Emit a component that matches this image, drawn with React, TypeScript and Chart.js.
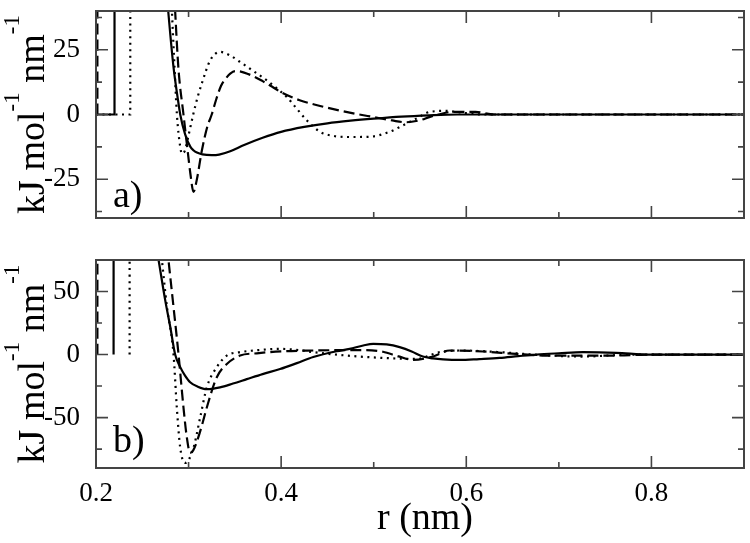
import React, { useEffect, useRef } from 'react';
import { Chart, registerables } from 'chart.js';

Chart.register(...registerables);

const FONT = '"Liberation Serif", "Times New Roman", serif';

// ---- shared axis ticks ----
const xMajorTicks = [0.2, 0.4, 0.6, 0.8];
const xMinorTicks = [0.3, 0.5, 0.7];
const xMin = 0.2;
const xMax = 0.9;

// ---- panel a) ----
const aYMin = -40;
const aYMax = 40;
const aYMajor = [-25, 0, 25];
const aYMinor = [-37.5, -12.5, 12.5, 37.5];

const aSolidR = [0.2, 0.22, 0.2201, 0.24, 0.25, 0.26, 0.27, 0.278, 0.2837, 0.288, 0.291, 0.2963, 0.302, 0.3055, 0.309, 0.315, 0.325, 0.333, 0.345, 0.36, 0.38, 0.4, 0.425, 0.45, 0.475, 0.5, 0.53, 0.56, 0.59, 0.9];
const aSolidF = [0, 0, 1000, 400, 220, 130, 75, 40, 18.4, 7, 0, -7.7, -12.5, -13.9, -14.7, -15.4, -15.7, -15.5, -14.2, -11.8, -9, -6.7, -4.8, -3.4, -2.4, -1.6, -0.8, -0.3, 0, 0];

const aDashR = [0.2015, 0.2016, 0.25, 0.26, 0.27, 0.28, 0.2855, 0.289, 0.2945, 0.299, 0.302, 0.3053, 0.309, 0.3143, 0.32, 0.325, 0.33, 0.335, 0.34, 0.345, 0.3503, 0.355, 0.36, 0.37, 0.38, 0.39, 0.4, 0.42, 0.44, 0.46, 0.48, 0.5, 0.52, 0.535, 0.55, 0.56, 0.57, 0.585, 0.61, 0.63, 0.9];
const aDashF = [0, 1000, 600, 350, 180, 80, 40, 18, 0, -14, -23, -29.9, -25, -14, -5, 0, 6, 11, 13.8, 15.8, 16.8, 16.7, 16.2, 14.8, 12.9, 10.8, 8.6, 5.5, 3.5, 1.8, 0.3, -1, -2.3, -3, -2.2, -1, 0, 1, 1, 0, 0];

const aDotR = [0.2, 0.237, 0.2372, 0.255, 0.265, 0.275, 0.279, 0.282, 0.2848, 0.2874, 0.291, 0.2928, 0.296, 0.3, 0.305, 0.31, 0.3143, 0.3233, 0.334, 0.345, 0.3557, 0.37, 0.3845, 0.395, 0.406, 0.417, 0.4276, 0.442, 0.457, 0.4743, 0.496, 0.517, 0.5315, 0.546, 0.5606, 0.5787, 0.593, 0.618, 0.9];
const aDotF = [0, 0, 1000, 400, 220, 100, 65, 40, 18.4, 0, -12.5, -15.1, -14, -8, 0, 7, 12, 20.9, 24.2, 22.8, 20.3, 16.8, 13.2, 10.2, 6.8, 2.2, -2.2, -6.7, -8.3, -8.7, -8.6, -6.7, -4.2, -1.6, 1, 1.4, 0.8, 0, 0];

// ---- panel b) ----
const bYMin = -90;
const bYMax = 75;
const bYMajor = [-50, 0, 50];
const bYMinor = [-75, -25, 25];

const bSolidR = [0.219, 0.2192, 0.23, 0.24, 0.25, 0.26, 0.2676, 0.2748, 0.2802, 0.2855, 0.291, 0.296, 0.3017, 0.31, 0.3197, 0.334, 0.348, 0.3629, 0.38, 0.3988, 0.417, 0.4347, 0.46, 0.474, 0.4887, 0.4995, 0.514, 0.528, 0.541, 0.553, 0.564, 0.575, 0.593, 0.614, 0.636, 0.656, 0.676, 0.7, 0.726, 0.762, 0.798, 0.9];
const bSolidF = [0, 1000, 600, 300, 170, 108, 75, 43, 22, 0, -10, -16.5, -22, -25.5, -27.5, -26, -23, -19.5, -15.5, -11.5, -6.8, -2, 2.6, 4.5, 7.2, 8.5, 8, 5.9, 2.5, -1.6, -3, -3.8, -4.3, -3.6, -2.7, -1.3, 0, 1, 1.9, 1.4, 0, 0];

const bDashR = [0.2015, 0.2016, 0.25, 0.265, 0.272, 0.2783, 0.2837, 0.2891, 0.2945, 0.298, 0.3017, 0.305, 0.309, 0.3145, 0.3197, 0.3305, 0.3413, 0.3557, 0.3737, 0.4, 0.4347, 0.47, 0.49, 0.51, 0.527, 0.5427, 0.5642, 0.582, 0.618, 0.654, 0.69, 0.76, 0.8, 0.9];
const bDashF = [0, 1000, 350, 180, 120, 75, 38, 0.5, -42, -65, -78, -76, -69, -56, -42, -18, -7.5, -0.8, 1, 2.5, 3.2, 3.5, 3.5, 2.2, -1.5, -4.3, -1.6, 3.2, 2.4, 0.5, -0.8, -0.8, 0, 0];

const bDotR = [0.2363, 0.2365, 0.245, 0.258, 0.265, 0.2712, 0.2766, 0.2837, 0.2873, 0.291, 0.2963, 0.3053, 0.3125, 0.3197, 0.3305, 0.3413, 0.3557, 0.375, 0.3988, 0.42, 0.4347, 0.4708, 0.51, 0.546, 0.5714, 0.593, 0.636, 0.672, 0.726, 0.78, 0.9];
const bDotF = [0, 1000, 350, 180, 120, 75, 38, 0.5, -42, -74, -86, -74, -50, -26, -10, -0.8, 1.9, 3.5, 4.5, 3.5, 1.9, -0.8, -2.7, -3.5, 1.9, 3.2, 1.9, 0, -1.6, 0, 0];

type Style = 'solid' | 'dash' | 'dot';

function makeDataset(r: number[], f: number[], style: Style) {
  return {
    data: r.map((x, i) => ({ x, y: f[i] })),
    borderColor: '#000',
    borderWidth: 2.2,
    borderDash: style === 'dash' ? [11, 5] : style === 'dot' ? [2, 4.5] : [],
    pointRadius: 0,
    fill: false,
    cubicInterpolationMode: 'monotone' as const,
  };
}

interface PanelOpts {
  datasets: any[];
  yMin: number;
  yMax: number;
  yMajor: number[];
  yMinor: number[];
  padTop: number;
  xAxisHeight: number;
  showXLabels: boolean;
  panelLabel: string;
  panelLabelDy: number;
  xTitle?: { text: string; x: number; y: number };
}

function framePlugin(p: PanelOpts) {
  return {
    id: 'frameTicks',
    afterDraw(chart: any) {
      const { ctx, chartArea: a } = chart;
      const xs = chart.scales.x;
      const ys = chart.scales.y;
      ctx.save();
      ctx.strokeStyle = '#444';
      ctx.lineWidth = 2;
      ctx.strokeRect(a.left, a.top, a.right - a.left, a.bottom - a.top);
      ctx.lineWidth = 1.6;
      const xTick = (v: number, len: number) => {
        const px = xs.getPixelForValue(v);
        ctx.beginPath();
        ctx.moveTo(px, a.bottom);
        ctx.lineTo(px, a.bottom - len);
        ctx.moveTo(px, a.top);
        ctx.lineTo(px, a.top + len);
        ctx.stroke();
      };
      const yTick = (v: number, len: number) => {
        const py = ys.getPixelForValue(v);
        ctx.beginPath();
        ctx.moveTo(a.left, py);
        ctx.lineTo(a.left + len, py);
        ctx.moveTo(a.right, py);
        ctx.lineTo(a.right - len, py);
        ctx.stroke();
      };
      xMajorTicks.forEach((v) => xTick(v, 12));
      xMinorTicks.forEach((v) => xTick(v, 6));
      p.yMajor.forEach((v) => yTick(v, 12));
      p.yMinor.forEach((v) => yTick(v, 6));

      // y-axis title with superscripts
      ctx.fillStyle = '#000';
      ctx.textBaseline = 'alphabetic';
      ctx.textAlign = 'left';
      const mainF = `38px ${FONT}`;
      const supF = `23px ${FONT}`;
      const parts = [
        { t: 'kJ mol', f: mainF, dy: 0 },
        { t: '-1', f: supF, dy: -25 },
        { t: ' nm', f: mainF, dy: 0 },
        { t: '-1', f: supF, dy: -25 },
      ];
      let total = 0;
      const widths = parts.map((pt) => {
        ctx.font = pt.f;
        const w = ctx.measureText(pt.t).width;
        total += w;
        return w;
      });
      ctx.save();
      ctx.translate(44, (a.top + a.bottom) / 2);
      ctx.rotate(-Math.PI / 2);
      let cx = -total / 2;
      parts.forEach((pt, i) => {
        ctx.font = pt.f;
        ctx.fillText(pt.t, cx, pt.dy);
        cx += widths[i];
      });
      ctx.restore();

      // panel label
      ctx.font = `38px ${FONT}`;
      ctx.textAlign = 'left';
      ctx.fillText(p.panelLabel, a.left + 17, a.bottom - p.panelLabelDy);

      // x title
      if (p.xTitle) {
        ctx.font = `38px ${FONT}`;
        ctx.textAlign = 'center';
        ctx.fillText(p.xTitle.text, p.xTitle.x, p.xTitle.y);
      }
      ctx.restore();
    },
  };
}

function buildConfig(p: PanelOpts): any {
  return {
    type: 'line',
    data: { datasets: p.datasets },
    options: {
      responsive: false,
      animation: false,
      devicePixelRatio: 1,
      layout: { padding: { left: 0, right: 6, top: p.padTop, bottom: 0 } },
      plugins: { legend: { display: false }, tooltip: { enabled: false } },
      elements: { point: { radius: 0 } },
      scales: {
        x: {
          type: 'linear',
          min: xMin,
          max: xMax,
          grid: { display: false },
          border: { display: false },
          afterBuildTicks: (s: any) => {
            s.ticks = xMajorTicks.map((v) => ({ value: v }));
          },
          ticks: {
            display: p.showXLabels,
            font: { family: FONT, size: 27 },
            color: '#000',
            padding: 2,
            maxRotation: 0,
            autoSkip: false,
            callback: (v: any) => Number(v).toFixed(1),
          },
          afterFit: (s: any) => {
            s.height = p.xAxisHeight;
            s.paddingLeft = 0;
            s.paddingRight = 0;
            s.paddingTop = 0;
            s.paddingBottom = 0;
          },
        },
        y: {
          type: 'linear',
          min: p.yMin,
          max: p.yMax,
          grid: { display: false },
          border: { display: false },
          afterBuildTicks: (s: any) => {
            s.ticks = p.yMajor.map((v) => ({ value: v }));
          },
          ticks: {
            font: { family: FONT, size: 27 },
            color: '#000',
            padding: 8,
            autoSkip: false,
            callback: (v: any) => String(v),
          },
          afterFit: (s: any) => {
            s.width = 96;
            s.paddingLeft = 0;
            s.paddingRight = 0;
            s.paddingTop = 0;
            s.paddingBottom = 0;
          },
        },
      },
    },
    plugins: [framePlugin(p)],
  };
}

const TOP_H = 236;
const BOT_H = 543 - TOP_H;

export default function App() {
  const topRef = useRef<HTMLCanvasElement>(null);
  const botRef = useRef<HTMLCanvasElement>(null);

  useEffect(() => {
    if (!topRef.current || !botRef.current) return;
    const c1 = new Chart(
      topRef.current,
      buildConfig({
        datasets: [
          makeDataset(aSolidR, aSolidF, 'solid'),
          makeDataset(aDashR, aDashF, 'dash'),
          makeDataset(aDotR, aDotF, 'dot'),
        ],
        yMin: aYMin,
        yMax: aYMax,
        yMajor: aYMajor,
        yMinor: aYMinor,
        padTop: 11,
        xAxisHeight: TOP_H - 218,
        showXLabels: false,
        panelLabel: 'a)',
        panelLabelDy: 11,
      })
    );
    const c2 = new Chart(
      botRef.current,
      buildConfig({
        datasets: [
          makeDataset(bSolidR, bSolidF, 'solid'),
          makeDataset(bDashR, bDashF, 'dash'),
          makeDataset(bDotR, bDotF, 'dot'),
        ],
        yMin: bYMin,
        yMax: bYMax,
        yMajor: bYMajor,
        yMinor: bYMinor,
        padTop: 260 - TOP_H,
        xAxisHeight: BOT_H - (468 - TOP_H),
        showXLabels: true,
        panelLabel: 'b)',
        panelLabelDy: 16,
        xTitle: { text: 'r (nm)', x: 425, y: 529 - TOP_H },
      })
    );
    return () => {
      c1.destroy();
      c2.destroy();
    };
  }, []);

  return (
    <div style={{ position: 'absolute', left: 0, top: 0, width: 750, height: 543, background: '#fff' }}>
      <canvas
        ref={topRef}
        width={750}
        height={TOP_H}
        style={{ position: 'absolute', left: 0, top: 0, width: 750, height: TOP_H }}
      />
      <canvas
        ref={botRef}
        width={750}
        height={BOT_H}
        style={{ position: 'absolute', left: 0, top: TOP_H, width: 750, height: BOT_H }}
      />
    </div>
  );
}
